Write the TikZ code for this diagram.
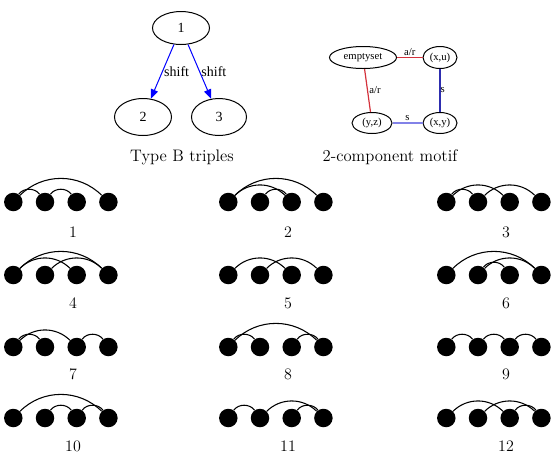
\documentclass[tikz,border=0pt]{standalone}
\usepackage{fontspec}
\newfontfamily\gvfont{Liberation Serif}
\usetikzlibrary{arrows.meta,shapes.geometric}
\definecolor{edgered}{RGB}{212,50,60}
\definecolor{edgeblue}{RGB}{45,45,175}
\definecolor{lightblue}{RGB}{130,130,232}
\newcommand\motif[4]{%
  \foreach \i in {1,2,3,4} {\node[dot] (#1-\i) at ({#2+31.7*(\i-1)},#3) {};}
  \foreach \a/\b in {#4} {
    \pgfmathsetmacro\bang{(\b-\a)==1 ? 55 : 45}
    \draw[arcl] (#1-\a) to[bend left=\bang] (#1-\b);
  }%
}
\begin{document}
\begin{tikzpicture}[x=0.75pt,y=0.75pt,
  dot/.style={circle,fill=black,draw=none,inner sep=0pt,minimum size=18.5*0.75pt},
  arcl/.style={line width=0.8pt},
  lab/.style={font=\fontsize{12}{14}\selectfont,inner sep=0pt},
  captext/.style={font=\fontsize{12.5}{15}\selectfont,inner sep=0pt},
  gnode/.style={ellipse,draw,line width=0.75pt,inner sep=0pt,font=\gvfont\fontsize{10.5}{12}\selectfont},
  snode/.style={ellipse,draw,line width=0.75pt,inner sep=0pt,font=\gvfont\fontsize{8}{9}\selectfont},
  slab/.style={font=\gvfont\fontsize{8}{9}\selectfont,inner sep=1pt},
  garrow/.style={blue,line width=0.75pt,-{Triangle[length=7pt,width=5.5pt]}},
]
\useasboundingbox (0,0) rectangle (558,-455);

% Type B triples
\node[gnode,minimum width=57*0.75pt,minimum height=33*0.75pt] (t1) at (181,-28) {1};
\node[gnode,minimum width=57*0.75pt,minimum height=37*0.75pt] (t2) at (143,-117) {2};
\node[gnode,minimum width=55*0.75pt,minimum height=37*0.75pt] (t3) at (219,-117) {3};
\draw[garrow] (t1) -- (t2) node[midway,right,inner sep=1pt,black,font=\gvfont\fontsize{10.5}{12}\selectfont] {shift};
\draw[garrow] (t1) -- (t3) node[midway,right,inner sep=1pt,black,font=\gvfont\fontsize{10.5}{12}\selectfont] {shift};
\node[captext] (capA) at (182,-157) {Type B triples};

% 2-component motif
\node[snode,minimum width=67*0.75pt,minimum height=22*0.75pt] (es) at (363,-57.5) {emptyset};
\node[snode,minimum width=34*0.75pt,minimum height=22*0.75pt] (xu) at (440,-57.5) {(x,u)};
\node[snode,minimum width=40*0.75pt,minimum height=21*0.75pt] (yz) at (372,-123) {(y,z)};
\node[snode,minimum width=34*0.75pt,minimum height=21*0.75pt] (xy) at (440,-123) {(x,y)};
\draw[edgered,line width=0.9pt] (es) -- (xu) node[midway,above,slab,black] {a/r};
\draw[edgered,line width=0.9pt] (es) -- (yz) node[midway,right,slab,black] {a/r};
\draw[edgeblue,line width=0.9pt] (xu) -- (xy) node[midway,slab,black,xshift=2pt] {s};
\draw[lightblue,line width=1.8pt] (yz) -- (xy) node[midway,above,slab,black] {s};
\node[captext] (capB) at (390,-157) {2-component motif};

% motifs
\motif{m1}{13.3}{-202}{1/2,2/3,1/4}
\motif{m2}{228.3}{-202}{1/3,2/3,1/4}
\motif{m3}{446.3}{-202}{1/2,1/3,2/4}
\motif{m4}{13.3}{-275}{1/3,1/4,2/4}
\motif{m5}{228.3}{-275}{1/3,2/4}
\motif{m6}{446.3}{-275}{1/4,2/3,2/4}
\motif{m7}{13.3}{-347}{1/2,1/3,3/4}
\motif{m8}{228.3}{-347}{1/2,1/4,3/4}
\motif{m9}{446.3}{-347}{1/2,2/3,3/4}
\motif{m10}{13.3}{-418}{1/4,2/3,3/4}
\motif{m11}{228.3}{-418}{1/2,2/4,3/4}
\motif{m12}{446.3}{-418}{1/3,2/4,3/4}

\node[lab] (l1) at (73,-232) {1};
\node[lab] (l2) at (288,-232) {2};
\node[lab] (l3) at (506,-232) {3};
\node[lab] (l4) at (73,-303) {4};
\node[lab] (l5) at (288,-303) {5};
\node[lab] (l6) at (506,-303) {6};
\node[lab] (l7) at (73,-374) {7};
\node[lab] (l8) at (288,-374) {8};
\node[lab] (l9) at (506,-374) {9};
\node[lab] (l10) at (73,-446) {10};
\node[lab] (l11) at (288,-446) {11};
\node[lab] (l12) at (506,-446) {12};
\end{tikzpicture}
\end{document}
